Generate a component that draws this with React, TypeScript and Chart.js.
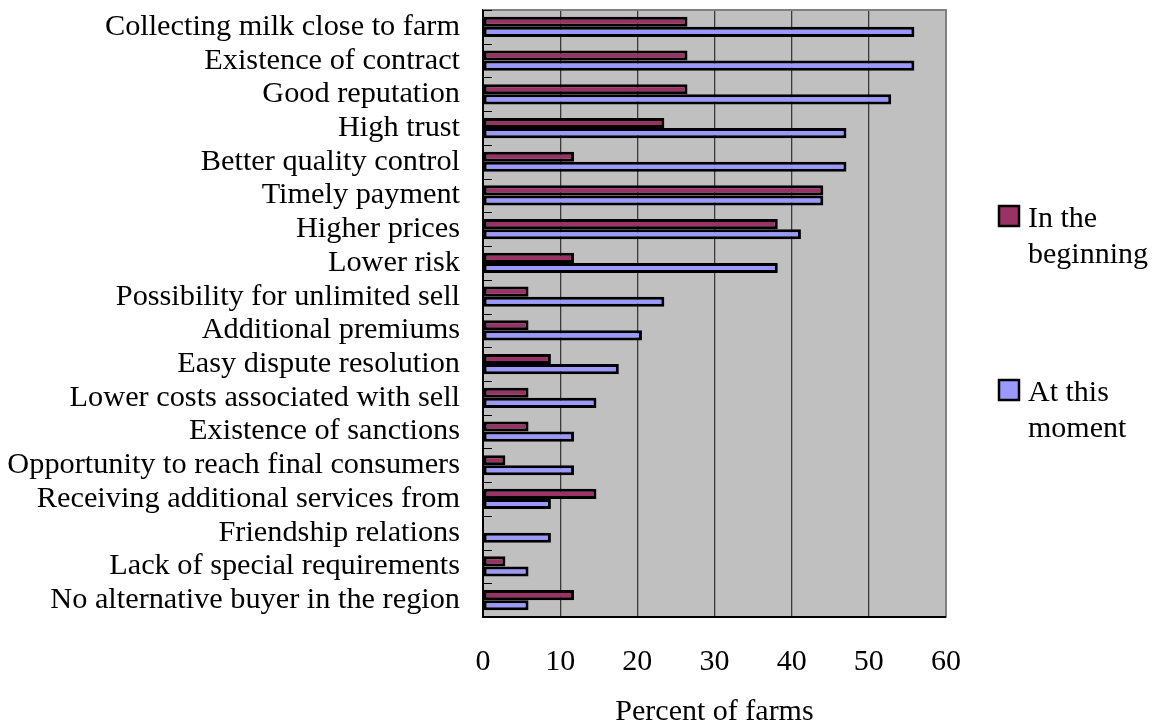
import React, { useEffect, useRef } from "react";
import { Chart, registerables } from "chart.js";

Chart.register(...registerables);

const categories = [
  "Collecting milk close to farm",
  "Existence of contract",
  "Good reputation",
  "High trust",
  "Better quality control",
  "Timely payment",
  "Higher prices",
  "Lower risk",
  "Possibility for unlimited sell",
  "Additional premiums",
  "Easy dispute resolution",
  "Lower costs associated with sell",
  "Existence of sanctions",
  "Opportunity to reach final consumers",
  "Receiving additional services from",
  "Friendship relations",
  "Lack of special requirements",
  "No alternative buyer in the region",
];

const inTheBeginning = [26.5, 26.5, 26.5, 23.5, 11.8, 44.1, 38.2, 11.8, 5.9, 5.9, 8.8, 5.9, 5.9, 2.9, 14.7, 0, 2.9, 11.8];
const atThisMoment = [55.9, 55.9, 52.9, 47.1, 47.1, 44.1, 41.2, 38.2, 23.5, 20.6, 17.6, 14.7, 11.8, 11.8, 8.8, 8.8, 5.9, 5.9];

const seriesNames = [["In the", "beginning"], ["At this", "moment"]];
const xTicks = [0, 10, 20, 30, 40, 50, 60];
const xTitle = "Percent of farms";

const FONT = "'Liberation Serif', 'Times New Roman', serif";

const plotBg = {
  id: "plotBg",
  beforeDraw(chart: any) {
    const { ctx, chartArea: a } = chart;
    ctx.save();
    ctx.fillStyle = "#C0C0C0";
    ctx.fillRect(a.left, a.top, a.right - a.left, a.bottom - a.top);
    ctx.restore();
  },
  afterDraw(chart: any) {
    const { ctx, chartArea: a } = chart;
    ctx.save();
    // top & right frame in gray
    ctx.strokeStyle = "#808080";
    ctx.lineWidth = 2;
    ctx.beginPath();
    ctx.moveTo(a.left, a.top);
    ctx.lineTo(a.right, a.top);
    ctx.lineTo(a.right, a.bottom);
    ctx.stroke();
    // inward tick marks on category axis
    const y = chart.scales.y;
    ctx.strokeStyle = "#000";
    ctx.lineWidth = 1;
    for (let i = 0; i <= categories.length; i++) {
      const py = Math.round(y.getPixelForValue(i - 0.5)) + 0.5;
      ctx.beginPath();
      ctx.moveTo(a.left, py);
      ctx.lineTo(a.left + 9, py);
      ctx.stroke();
    }
    // left & bottom axis lines
    ctx.lineWidth = 2;
    ctx.beginPath();
    ctx.moveTo(a.left, a.top);
    ctx.lineTo(a.left, a.bottom);
    ctx.lineTo(a.right, a.bottom);
    ctx.stroke();
    // legend
    const ds = chart.data.datasets;
    const entryTops = [206, 380];
    ctx.font = `30px ${FONT}`;
    ctx.textBaseline = "alphabetic";
    ctx.textAlign = "left";
    ds.forEach((d: any, i: number) => {
      const sy = entryTops[i];
      const sx = a.right + 53;
      ctx.fillStyle = d.backgroundColor;
      ctx.fillRect(sx, sy, 20, 20);
      ctx.strokeStyle = "#000";
      ctx.lineWidth = 2.5;
      ctx.strokeRect(sx, sy, 20, 20);
      ctx.fillStyle = "#000";
      const lines = seriesNames[i];
      lines.forEach((t, j) => {
        ctx.fillText(t, sx + 29, sy + 21 + j * 36);
      });
    });
    ctx.restore();
  },
};

export default function App() {
  const ref = useRef<HTMLCanvasElement | null>(null);
  useEffect(() => {
    if (!ref.current) return;
    const chart = new Chart(ref.current, {
      type: "bar",
      data: {
        labels: categories,
        datasets: [
          {
            label: seriesNames[0].join(" "),
            data: inTheBeginning,
            backgroundColor: "#993366",
            borderColor: "#000000",
            borderWidth: 3,
            borderSkipped: false,
            categoryPercentage: 0.6,
            barPercentage: 1,
          },
          {
            label: seriesNames[1].join(" "),
            data: atThisMoment,
            backgroundColor: "#9999FF",
            borderColor: "#000000",
            borderWidth: 3,
            borderSkipped: false,
            categoryPercentage: 0.6,
            barPercentage: 1,
          },
        ],
      },
      options: {
        indexAxis: "y",
        responsive: false,
        animation: false,
        layout: { padding: { left: 0, top: 10, right: 217, bottom: 0 } },
        plugins: {
          legend: { display: false },
          tooltip: { enabled: false },
        },
        scales: {
          x: {
            min: 0,
            max: 60,
            afterBuildTicks(scale: any) {
              scale.ticks = xTicks.map((v) => ({ value: v }));
            },
            afterFit(scale: any) {
              scale.height = 108;
              scale.paddingLeft = 0;
              scale.paddingRight = 0;
            },
            grid: {
              color: (c: any) => (c.tick && c.tick.value === 60 ? "#808080" : "#3a3a3a"),
              lineWidth: 1.3,
              drawTicks: false,
            },
            border: { display: true, color: "#000", width: 2 },
            ticks: {
              color: "#000",
              padding: 27,
              font: { family: FONT, size: 30 },
              maxRotation: 0,
            },
            title: {
              display: true,
              text: xTitle,
              color: "#000",
              font: { family: FONT, size: 30, lineHeight: 1 },
              padding: { top: 0, bottom: -2 },
            },
          },
          y: {
            afterFit(scale: any) {
              scale.width = 483;
              scale.paddingTop = 0;
              scale.paddingBottom = 0;
            },
            grid: { display: false, drawTicks: false },
            border: { display: true, color: "#000", width: 2 },
            ticks: {
              color: "#000",
              padding: 23,
              autoSkip: false,
              font: { family: FONT, size: 30.3 },
            },
          },
        },
      },
      plugins: [plotBg],
    } as any);
    return () => chart.destroy();
  }, []);
  return (
    <div style={{ position: "fixed", left: 0, top: 0, width: 1163, height: 725, background: "#fff" }}>
      <canvas ref={ref} width={1163} height={725} style={{ display: "block" }} />
    </div>
  );
}
